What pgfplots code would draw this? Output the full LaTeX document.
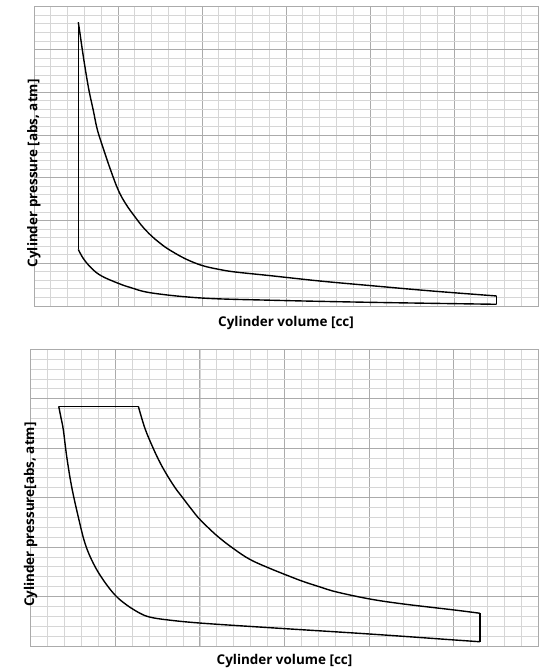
\documentclass[border=0pt]{standalone}
\usepackage{pgfplots}
\pgfplotsset{compat=1.18}
\usepackage{fontspec}
\setmainfont{Open Sans}
\definecolor{majgrid}{HTML}{ABABAB}
\definecolor{mingrid}{HTML}{D6D6D6}
\pgfplotsset{
  pvgrid/.style={
    scale only axis,
    axis line style={majgrid, line width=0.9pt},
    xticklabels={}, yticklabels={},
    major tick length=0pt, minor tick length=0pt,
    grid=both,
    major grid style={majgrid, line width=0.9pt},
    minor grid style={mingrid, line width=0.8pt},
    xmin=0, xmax=30,
    xtick={0,5,...,30}, minor xtick={0,1,...,30},
    label style={font=\bfseries\fontsize{13.5}{15}\selectfont},
    cycle list={{black, no markers}},
    no markers,
    every axis plot/.append style={black, line width=1.4pt, line join=round},
  }
}
\begin{document}
\begin{tikzpicture}
\useasboundingbox (0,0) rectangle (541bp,670bp);
% top chart
\begin{axis}[pvgrid,
  at={(34bp,364bp)}, anchor=south west,
  width=504bp, height=299.3bp,
  ymin=0, ymax=35,
  ytick={0,5,...,35}, minor ytick={0,1,...,35},
  ylabel={Cylinder pressure [abs, atm]},
  xlabel={Cylinder volume [cc]},
  ylabel style={at={(axis description cs:0,0.5)}, anchor=center, xshift=-17bp},
  xlabel style={at={(axis description cs:0.5,0)}, anchor=center, yshift=-17bp},
]
\addplot[black] coordinates {(2.637,33.17) (2.637,6.62)};
\addplot[black, smooth, tension=0.6] coordinates {
(2.637,6.62) (2.93,5.57) (3.43,4.40) (4.03,3.50) (5.02,2.65) (5.71,2.18)
(7.02,1.52) (10.0,0.93) (14.0,0.68) (20.0,0.43) (27.54,0.20)};
\addplot[black, smooth, tension=0.6] coordinates {
(2.637,33.17) (2.738,31.86) (2.857,30.22) (3.036,27.92) (3.274,25.20) (3.530,22.87)
(3.75,20.77) (4.03,18.98) (4.524,16.10) (5.018,13.54) (5.476,11.90) (6.012,10.42)
(6.488,9.22) (7.006,8.17) (7.50,7.35) (7.994,6.65) (8.988,5.54) (10.018,4.73)
(11.071,4.26) (12.006,3.97) (14.006,3.56) (17.024,2.92) (20.0,2.39) (22.98,1.87)
(25.0,1.55) (27.54,1.17)};
\addplot[black] coordinates {(27.54,1.17) (27.54,0.20)};
\end{axis}
% bottom chart
\begin{axis}[pvgrid,
  at={(30.7bp,24bp)}, anchor=south west,
  width=507.6bp, height=296.7bp,
  ymin=0, ymax=30,
  ytick={0,5,...,30}, minor ytick={0,1,...,30},
  ylabel={Cylinder pressure[abs, atm]},
  xlabel={Cylinder volume [cc]},
  ylabel style={at={(axis description cs:0,0.5)}, anchor=center, xshift=-17bp},
  xlabel style={at={(axis description cs:0.5,0)}, anchor=center, yshift=-15bp},
]
\addplot[black] coordinates {(1.655,24.24) (6.36,24.24)};
\addplot[black, smooth, tension=0.6] coordinates {
(1.655,24.24) (1.80,23.0) (1.93,21.84) (2.13,19.14) (2.42,16.11) (2.81,13.07) (3.21,10.38)
(3.70,8.36) (4.29,6.67) (4.98,5.16) (5.67,4.15) (6.46,3.31) (7.05,2.92)
(8.04,2.65) (10.01,2.32) (14.14,1.85) (20.05,1.21) (25.04,0.61) (26.55,0.43)};
\addplot[black, smooth, tension=0.6] coordinates {
(6.36,24.24) (6.755,21.99) (7.246,19.97) (7.642,18.55) (8.038,17.34) (8.528,16.02)
(9.019,14.91) (9.515,13.80) (10.006,12.79) (10.993,11.17) (11.974,9.86) (12.961,8.75)
(14.143,7.84) (15.325,7.03) (16.11,6.52) (17.098,5.97) (18.085,5.46) (20.05,4.75)
(22.02,4.25) (25.04,3.64) (26.55,3.31)};
\addplot[black] coordinates {(26.55,3.31) (26.55,0.43)};
\end{axis}
\end{tikzpicture}
\end{document}
